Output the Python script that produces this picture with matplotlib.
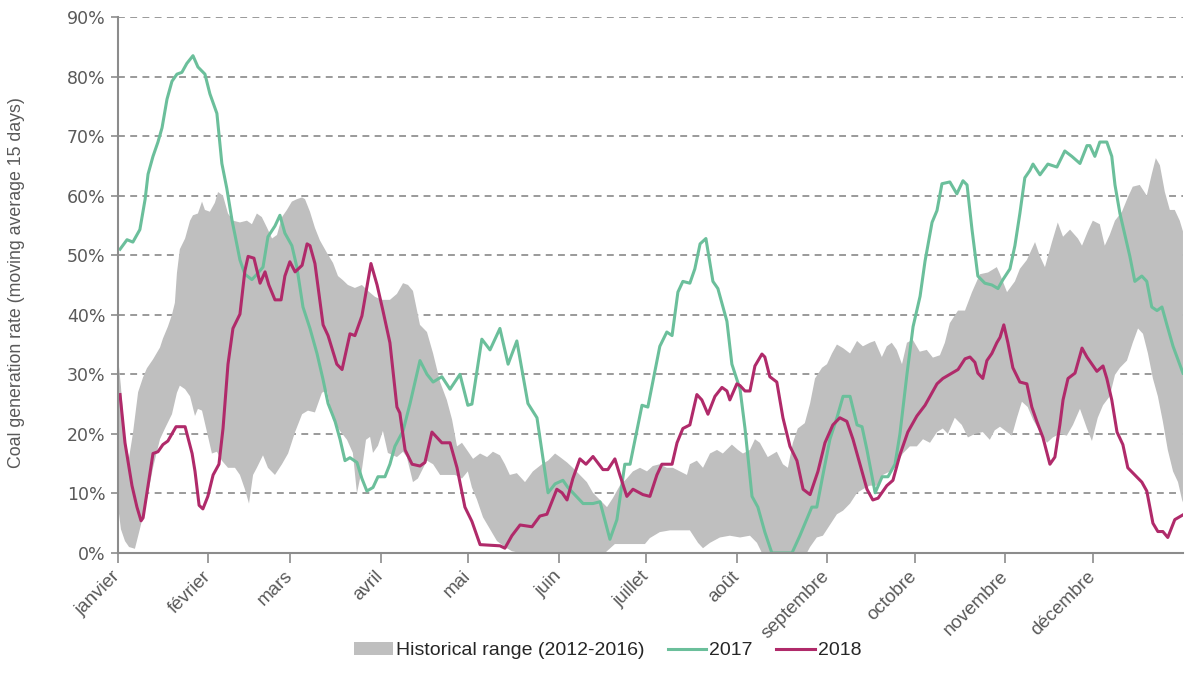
import matplotlib
matplotlib.use("Agg")
import matplotlib.pyplot as plt
import numpy as np
from matplotlib.patches import Patch
from matplotlib.lines import Line2D

# ---- data (day of year, %) ----
months = ["janvier", "février", "mars", "avril", "mai", "juin", "juillet",
          "août", "septembre", "octobre", "novembre", "décembre"]
month_start_days = [0, 31, 59, 90, 120, 151, 181, 212, 243, 273, 304, 334]

days_2017 = [0.7, 3.1, 5.1, 7.5, 9.3, 10.3, 12.0, 13.7, 15.1, 16.8, 18.5, 20.2, 21.9, 23.6, 25.7,
             27.4, 29.8, 31.5, 33.9, 35.6, 37.3, 39.1, 40.1, 41.8, 43.5, 45.9, 47.6, 49.7, 51.4,
             53.8, 55.5, 57.2, 59.6, 61.3, 63.4, 65.8, 68.2, 70.2, 72.0, 74.4, 76.1, 77.8, 79.5,
             81.9, 83.6, 85.3, 87.4, 89.1, 91.5, 93.2, 94.9, 97.7, 100.1, 103.5, 105.9, 108.0,
             111.0, 113.8, 117.2, 119.9, 121.3, 124.7, 127.5, 130.9, 133.7, 136.7, 140.5, 143.6,
             147.4, 149.8, 152.5, 154.2, 159.4, 162.8, 165.2, 168.6, 171.0, 173.7, 175.5, 176.5,
             179.6, 181.6, 185.7, 188.1, 189.9, 191.9, 193.6, 196.0, 197.7, 199.5, 201.5, 203.9,
             205.6, 208.7, 210.4, 213.2, 214.9, 217.3, 219.3, 221.7, 224.1, 231.0, 233.7, 237.8,
             239.5, 241.6, 244.0, 246.4, 248.5, 250.9, 253.3, 255.0, 256.7, 259.5, 261.9, 263.9,
             266.3, 268.0, 270.4, 272.5, 274.9, 276.6, 279.0, 280.7, 282.4, 285.1, 287.5, 289.6,
             291.0, 292.7, 294.7, 297.1, 299.5, 301.6, 303.3, 305.7, 307.4, 309.1, 310.8, 312.5,
             313.6, 316.0, 318.7, 321.8, 324.5, 326.9, 329.7, 332.1, 333.1, 334.8, 336.5, 338.9,
             340.6, 341.7, 343.4, 345.1, 346.8, 348.5, 350.9, 352.6, 354.3, 356.1, 357.8, 359.5,
             361.6, 365.0]
rate_2017 = [51, 52.6, 52.2, 54.3, 59.4, 63.6, 66.6, 69, 71.4, 76.2, 79.2, 80.4, 80.7, 82.2, 83.5,
             81.6, 80.4, 77.1, 73.8, 65.4, 61.2, 55.8, 53.4, 49.2, 46.8, 45.9, 46.8, 48, 53.1,
             54.9, 56.7, 53.7, 51.6, 48, 41.3, 37.7, 33.5, 29.3, 25.1, 22.1, 19.1, 15.5, 16,
             15.2, 12.5, 10.4, 11, 12.8, 12.8, 14.9, 17.9, 20.5, 25.1, 32.3, 30, 28.7,
             29.6, 27.5, 30, 24.8, 25, 35.9, 34.1, 37.7, 31.7, 35.6, 25.1, 22.7,
             10.1, 11.6, 12.2, 11, 8.3, 8.3, 8.6, 2.3, 5.6, 14.9, 14.9, 17.3,
             24.8, 24.5, 34.7, 37.1, 36.5, 43.8, 45.6, 45.3, 47.7, 51.9, 52.8, 45.6,
             44.4, 38.9, 31.7, 27.5, 20.9, 9.5, 7.7, 3.5, 0, 0, 2.9, 7.7,
             7.7, 13.1, 19.1, 22.7, 26.3, 26.3, 21.5, 21.2, 17.3, 10.1, 12.8, 12.8,
             14.9, 20, 30, 38, 43.1, 49, 55.5, 57.5, 62, 62.3, 60.3, 62.5,
             61.8, 54.3, 46.5, 45.3, 45, 44.4, 45.9, 47.7, 51.6, 57, 63, 64.2,
             65.3, 63.5, 65.3, 64.8, 67.5, 66.6, 65.4, 68.4, 68.4, 66.6, 69, 69,
             66.6, 61.8, 57, 53.4, 49.8, 45.6, 46.5, 45.6, 41.3, 40.7, 41.3, 38.3,
             34.7, 30.2]

days_2018 = [0.7, 2.4, 4.8, 6.5, 7.9, 8.6, 10.3, 12.0, 13.7, 15.4, 17.1, 18.5, 19.9, 23.0, 25.4,
             26.4, 27.8, 29.1, 30.8, 32.6, 34.6, 36.0, 37.7, 39.4, 41.8, 43.5, 44.6, 46.6, 48.7,
             50.4, 51.7, 53.8, 55.9, 57.2, 58.9, 60.7, 63.1, 64.8, 65.8, 67.5, 70.3, 72.0, 75.0,
             76.8, 79.5, 81.2, 83.6, 86.7, 88.8, 90.8, 93.2, 95.6, 96.6, 98.4, 100.8, 103.5,
             105.2, 107.6, 111.0, 113.8, 116.2, 118.9, 121.3, 124.1, 130.9, 132.6, 135.0, 137.8,
             141.9, 144.6, 147.0, 150.4, 152.2, 153.9, 155.9, 158.3, 160.4, 162.8, 166.2, 167.9,
             170.3, 172.0, 174.4, 176.5, 179.9, 182.3, 184.7, 186.4, 189.9, 191.6, 193.6, 196.0,
             198.4, 200.1, 202.2, 204.6, 207.0, 208.7, 209.7, 212.1, 213.2, 214.9, 216.6, 218.3,
             220.7, 221.7, 223.4, 225.8, 227.9, 230.3, 232.7, 234.8, 237.2, 239.9, 242.3, 245.0,
             247.4, 249.8, 251.9, 254.3, 256.7, 258.7, 260.5, 263.5, 265.6, 268.0, 270.7, 273.8,
             276.6, 279.0, 280.7, 282.7, 285.1, 287.9, 290.3, 292.0, 293.7, 294.7, 296.4, 297.8,
             299.5, 301.2, 302.3, 303.6, 305.0, 306.7, 309.1, 311.5, 313.2, 314.9, 317.0, 319.4,
             321.1, 322.8, 323.9, 325.6, 328.0, 330.4, 332.1, 333.8, 335.5, 337.6, 338.9, 340.6,
             342.4, 344.4, 346.1, 348.5, 350.9, 352.6, 354.7, 356.4, 358.1, 359.8, 362.2, 365.0]
rate_2018 = [26.6, 18.5, 11.3, 7.7, 5.4, 5.9, 11.3, 16.7, 17, 18.2, 18.8, 20, 21.2, 21.2, 16.7,
             13.7, 8, 7.4, 9.5, 13.1, 14.9, 20.9, 31.7, 37.7, 40.1, 47.4, 49.8, 49.5, 45.3,
             47.2, 45, 42.5, 42.5, 46.5, 48.9, 47.2, 48.3, 51.9, 51.6, 48.6, 38.3, 36.5, 31.7,
             30.8, 36.8, 36.5, 39.8, 48.6, 45, 40.7, 35.3, 24.5, 23.5, 17.3, 14.9, 14.6,
             15.2, 20.3, 18.5, 18.5, 14.3, 7.7, 5.3, 1.4, 1.2, 0.8, 2.9, 4.7,
             4.4, 6.2, 6.5, 10.7, 10.1, 8.9, 12.5, 15.8, 14.9, 16.2, 14, 14,
             15.8, 13.1, 9.5, 10.7, 9.8, 9.5, 13.1, 14.9, 14.9, 18.5, 20.9, 21.5,
             26.6, 25.7, 23.3, 26.3, 27.8, 27.2, 25.7, 28.4, 28.1, 27.2, 27.2, 31.4,
             33.4, 32.9, 29.6, 28.7, 22.7, 17.9, 15.5, 10.7, 9.8, 13.7, 18.5, 21.5,
             22.7, 22.1, 19.1, 14.9, 10.7, 8.9, 9.2, 11.3, 12.2, 16.5, 20.3, 23,
             24.8, 26.9, 28.4, 29.3, 30, 30.8, 32.6, 32.9, 32, 30.2, 29.3, 32.3,
             33.5, 35.3, 36.2, 38.3, 35.3, 31.1, 28.7, 28.4, 24.5, 22.1, 19.4, 14.9,
             16.1, 21.5, 25.7, 29.3, 30.2, 34.4, 32.9, 31.7, 30.5, 31.4, 29.3, 25.7,
             20.3, 18.2, 14.3, 13.1, 11.9, 10.4, 5, 3.6, 3.6, 2.6, 5.6, 6.4]

hist_max_days = [0, 1.0, 2.4, 3.8, 5.1, 6.9, 8.6, 9.9, 12.0, 14.4, 15.4, 17.1, 18.5, 19.5, 20.2,
                 21.2, 23.0, 24.7, 25.7, 27.4, 28.8, 29.8, 31.5, 33.2, 34.3, 36.0, 37.7, 39.4,
                 41.8, 44.2, 45.9, 47.6, 49.3, 51.1, 52.8, 54.5, 56.2, 57.9, 59.6, 61.3, 63.1,
                 64.1, 65.8, 67.5, 69.2, 71.6, 73.7, 75.4, 77.1, 78.8, 81.2, 83.6, 85.7, 88.1,
                 90.5, 93.2, 95.6, 97.7, 99.4, 101.1, 103.5, 105.9, 108.0, 110.4, 112.7, 114.5,
                 116.2, 117.9, 119.6, 121.7, 124.1, 126.5, 128.5, 130.9, 132.6, 134.3, 136.7,
                 139.5, 142.2, 145.3, 147.4, 149.8, 151.5, 153.9, 155.9, 158.3, 160.7, 162.8,
                 165.2, 167.6, 169.6, 172.0, 174.4, 176.5, 178.9, 181.3, 183.3, 185.7, 188.1,
                 190.2, 192.6, 195.0, 196.0, 198.4, 200.5, 202.9, 205.3, 207.3, 210.4, 212.5,
                 214.2, 216.6, 218.3, 220.0, 222.7, 225.8, 227.9, 229.6, 231.3, 233.0, 235.4,
                 237.2, 238.9, 241.3, 243.0, 244.7, 246.4, 248.5, 250.9, 253.3, 255.3, 257.7,
                 259.4, 261.8, 263.5, 265.2, 266.9, 268.7, 270.4, 272.4, 274.8, 277.2, 279.3,
                 281.7, 283.4, 285.1, 287.9, 290.3, 292.7, 295.4, 298.2, 301.2, 302.3, 304.7,
                 307.4, 309.1, 311.5, 314.3, 316.0, 317.7, 320.1, 322.1, 323.9, 326.3, 329.0,
                 330.4, 332.4, 334.1, 336.5, 338.2, 339.9, 341.7, 344.1, 346.1, 347.8, 350.2,
                 352.6, 354.3, 355.7, 357.1, 358.8, 360.5, 362.2, 363.9, 365.0]
hist_max = [33, 28, 19, 16, 20, 27, 29.5, 31, 32.5, 34.5, 36, 38, 40, 42, 47,
            51, 52.8, 55.8, 56.7, 57, 59, 57.6, 57.3, 58.8, 60.6, 60, 57, 55.8,
            55.5, 55.8, 55.2, 57, 56.4, 54.6, 52.8, 53.4, 56.4, 57.6, 59, 59.4, 59.7,
            59.4, 57.3, 54.6, 52.5, 50.4, 48.7, 46.5, 45.8, 45, 44.5, 45, 44, 43,
            42.5, 42.5, 43.5, 45.3, 45, 44, 38.3, 37.1, 33.5, 28.7, 25.7, 22.4,
            17.9, 18.5, 17.3, 15.8, 16.7, 16.1, 17, 16.4, 14.9, 13.1, 13.4,
            11.9, 13.7, 14.9, 15.5, 16.7, 16.1, 15.2, 14.3, 13.1, 11.9, 10.1,
            8.9, 7.7, 9.2, 11.3, 12.5, 13.7, 14.3, 13.7, 14.6, 14.9, 14.3,
            14.3, 13.7, 13.1, 14.9, 15.5, 14.3, 16.7, 17.3, 16.7, 18.2, 17.3,
            16.7, 17.3, 19.1, 18.5, 16.1, 17, 14.9, 14.3, 18.5, 20.9, 21.8,
            25.1, 29.3, 31.1, 31.7, 33.5, 35, 34.4, 33.5, 35.6, 34.7, 35.3,
            35.6, 32.9, 34.7, 35.3, 34.1, 31.7, 35.3, 35.8, 33.8, 34.1, 32.8,
            33.2, 35.3, 38.6, 40.7, 40.7, 43.8, 46.8, 47.1, 48, 46.8, 43.8,
            45.6, 47.7, 49.2, 52.2, 49.8, 48, 52.2, 55.5, 53.1, 54.3, 52.8,
            51.6, 54, 55.8, 55.2, 51.6, 53.4, 55.8, 57.3, 59.7, 61.5, 61.8,
            60, 63.6, 66.3, 65.1, 60.6, 57.6, 57.6, 55.8, 54]

hist_min_days = [0, 1.0, 2.4, 3.8, 5.8, 7.5, 9.9, 12.0, 14.4, 16.1, 18.5, 20.2, 21.2, 23.0, 24.7,
                 26.4, 27.4, 28.8, 30.5, 32.2, 33.9, 35.6, 37.7, 40.1, 41.8, 43.5, 44.9, 46.3,
                 47.6, 49.7, 51.4, 53.8, 56.2, 58.3, 60.7, 63.1, 65.1, 67.5, 69.9, 71.6, 73.7,
                 76.1, 78.5, 80.5, 81.9, 83.6, 85.0, 86.4, 87.4, 89.1, 90.8, 92.5, 95.6, 97.7,
                 99.0, 101.1, 102.8, 105.9, 108.0, 110.4, 112.7, 115.5, 117.9, 119.9, 121.3,
                 123.0, 125.1, 127.5, 129.9, 132.6, 135.0, 137.8, 166.9, 170.3, 175.5, 180.6,
                 182.3, 185.7, 189.2, 192.6, 196.0, 198.8, 200.5, 202.9, 206.3, 209.7, 213.2,
                 216.6, 219.0, 220.7, 236.1, 237.2, 239.5, 241.6, 244.0, 246.4, 248.5, 250.9,
                 253.3, 255.3, 257.7, 260.1, 262.2, 264.6, 266.9, 269.0, 271.4, 273.8, 275.9,
                 278.3, 280.7, 282.7, 284.4, 286.8, 289.2, 291.3, 293.7, 296.4, 298.8, 300.5,
                 302.3, 304.7, 306.4, 308.1, 309.8, 311.8, 313.6, 316.0, 318.4, 320.4, 322.8,
                 325.2, 327.3, 329.7, 332.1, 333.8, 335.8, 337.6, 339.9, 341.7, 343.4, 345.8,
                 347.8, 349.6, 351.3, 353.0, 354.7, 356.4, 358.1, 359.8, 361.6, 363.3, 364.7,
                 365.0]
hist_min = [8, 4, 2, 1, 0.7, 4, 8.9, 14.3, 19.1, 20.9, 23.3, 26.9, 28.1, 27.5, 26.3,
            23, 24.2, 23.9, 20.3, 16.7, 17, 15.5, 14.3, 14.3, 13.1, 10.7, 8.3, 13.1,
            14.3, 16.4, 14.3, 13.1, 14.9, 16.7, 20.3, 23.3, 23.9, 23.6, 26.9, 27.3, 22.3,
            20.5, 19, 16.8, 10, 14, 19, 19.5, 16.8, 18, 20.5, 16.8, 16.1, 17,
            16.1, 11.9, 12.5, 15.5, 14.9, 13.1, 13.1, 13.1, 12.5, 13.7, 11,
            9, 6, 4, 2, 1, 0.3, 0, 0, 1.5, 1.5, 1.5,
            2.5, 3.5, 3.8, 3.8, 3.8, 1.7, 0.8, 1.7, 2.6, 2.9, 2.6,
            2.9, 1.7, 0, 0, 1, 2.6, 2.9, 4.7, 6.5, 7.1, 8.3,
            10.1, 10.7, 11.3, 11.3, 13.1, 13.7, 14.9, 16.7, 17.9, 17.9, 19.1,
            18.5, 20.3, 20.9, 20, 22.7, 21.5, 19.4, 20, 20.3, 19, 20.6,
            21.2, 20.3, 19.7, 22.7, 25.4, 24.5, 22.4, 20.3, 18.5, 19.4, 20,
            19.7, 21.5, 24.2, 20.9, 18.8, 22.7, 24.8, 26.3, 29.9, 31.1, 32.3,
            35.3, 37.7, 36.8, 33.5, 29.3, 26.3, 22.1, 17.3, 13.7, 11.9, 8.9,
            8.5]

y_ticks = [0, 10, 20, 30, 40, 50, 60, 70, 80, 90]

# ---- styling ----
GREEN = "#6bbf9b"
MAGENTA = "#b02a6a"
BAND = "#bfbfbf"
AXIS = "#8c8c8c"
TXT = "#595959"
SANS = ["Liberation Sans", "DejaVu Sans"]

fig = plt.figure(figsize=(11.87, 6.90), dpi=100)
ax = fig.add_axes([0.0994, 0.1986, 0.8972, 0.7768])

band_x = np.concatenate([hist_max_days, hist_min_days[::-1]])
band_y = np.concatenate([hist_max, hist_min[::-1]])
ax.fill(band_x, band_y, color=BAND, lw=0, zorder=1)

ax.plot(days_2017, rate_2017, color=GREEN, lw=2.2, zorder=3, solid_joinstyle="round")
ax.plot(days_2018, rate_2018, color=MAGENTA, lw=2.2, zorder=4, solid_joinstyle="round")

ax.set_xlim(0, 365)
ax.set_ylim(0, 90)

ax.set_yticks(y_ticks)
ax.set_yticklabels([f"{v}%" for v in y_ticks], color=TXT, fontsize=12.5)
for v in y_ticks[1:]:
    ax.axhline(v, color="#7f7f7f", lw=1.1, ls=(0, (4.5, 3.5)), zorder=0.5)

ax.set_xticks(month_start_days)
ax.set_xticklabels(months, rotation=45, ha="right", va="center", rotation_mode="anchor",
                   color=TXT, fontsize=13.5, family=SANS)
ax.tick_params(axis="x", length=7, width=1.2, color=AXIS, pad=8)
ax.tick_params(axis="y", length=5, width=1.2, color=AXIS, pad=4)

for s in ["top", "right"]:
    ax.spines[s].set_visible(False)
for s in ["left", "bottom"]:
    ax.spines[s].set_color(AXIS)
    ax.spines[s].set_linewidth(1.5)
    ax.spines[s].set_zorder(5)

fig.text(0.0135, 0.59, "Coal generation rate (moving average 15 days)", rotation=90,
         ha="center", va="center", color=TXT, fontsize=12.8, family=SANS)

handles = [Patch(facecolor=BAND, edgecolor="none"),
           Line2D([0], [0], color=GREEN, lw=2.2),
           Line2D([0], [0], color=MAGENTA, lw=2.2)]
labels = ["Historical range (2012-2016)", "2017", "2018"]
fig.legend(handles, labels, loc="center", bbox_to_anchor=(0.512, 0.057), ncol=3,
           frameon=False, handlelength=2.0, handletextpad=0.15, columnspacing=1.2,
           prop={"family": SANS, "size": 14}, labelcolor="#262626")

fig.savefig("out.png", dpi=100)
